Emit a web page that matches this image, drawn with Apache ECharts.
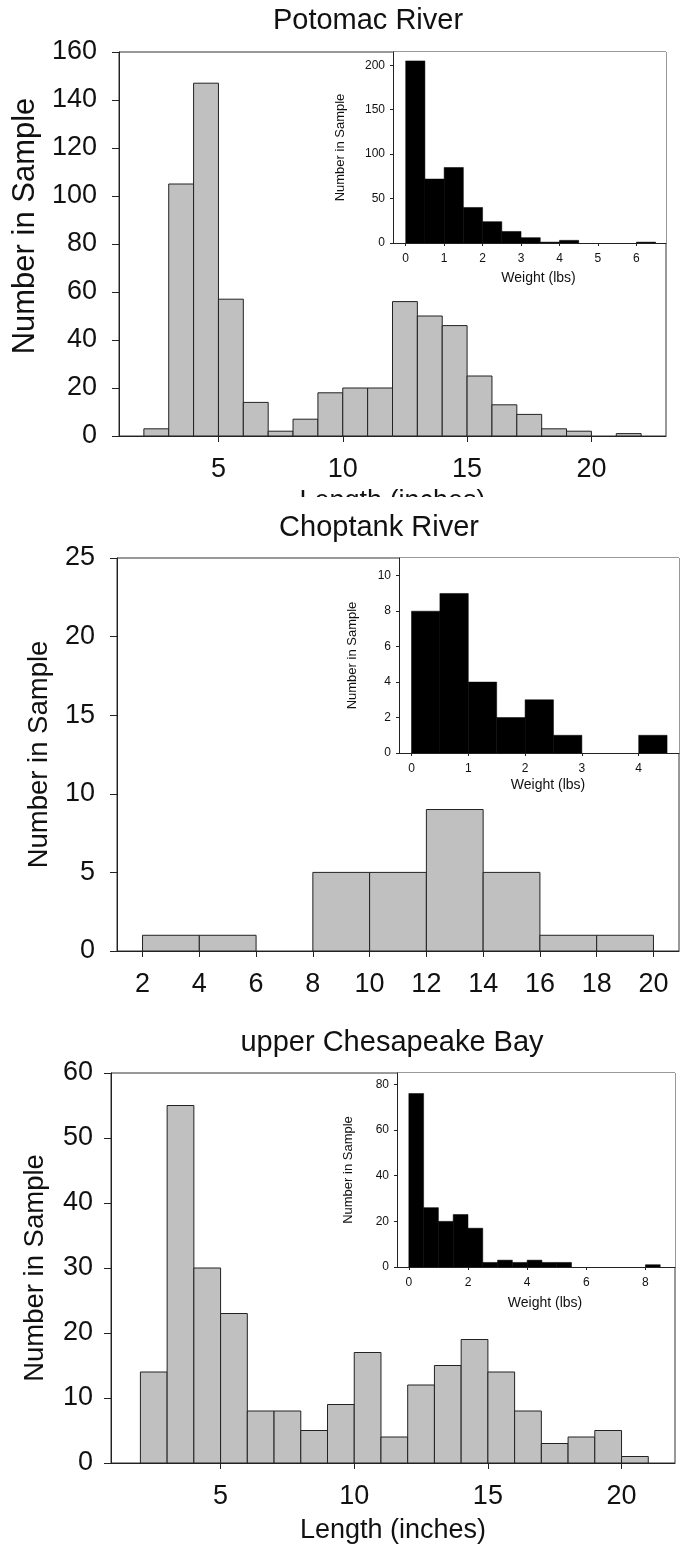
<!DOCTYPE html>
<html>
<head>
<meta charset="utf-8">
<script src="https://cdn.jsdelivr.net/npm/echarts@6/dist/echarts.min.js"></script>
<style>
  html, body { margin:0; padding:0; background:#fff; }
  .panel { position:absolute; left:0; width:683px; }
</style>
</head>
<body>
<div id="c1" class="panel" style="top:0;height:497px"></div>
<div id="c2" class="panel" style="top:497px;height:513px"></div>
<div id="c3" class="panel" style="top:1010px;height:535px"></div>
<script>
// ---------------- DATA ----------------
// Potomac River
const potomacTitle = 'Potomac River';
const potomacLenBins   = [2,3,4,5,6,7,8,9,10,11,12,13,14,15,16,17,18,19,20,21];
const potomacLenCounts = [3,105,147,57,14,2,7,18,20,20,56,50,46,25,13,9,3,2,0,1];
const potomacLenTicks  = [5,10,15,20];
const potomacYTicks    = [0,20,40,60,80,100,120,140,160];
const potomacWtBins    = [0,0.5,1,1.5,2,2.5,3,3.5,4,4.5,5,5.5,6];
const potomacWtCounts  = [205,72,85,40,24,13,6,1,3,0,0,0,1];
const potomacWtTicks   = [0,1,2,3,4,5,6];
const potomacWtYTicks  = [0,50,100,150,200];

// Choptank River
const choptankTitle = 'Choptank River';
const choptankLenBins   = [2,4,6,8,10,12,14,16,18];
const choptankLenCounts = [1,1,0,5,5,9,5,1,1];
const choptankLenTicks  = [2,4,6,8,10,12,14,16,18,20];
const choptankYTicks    = [0,5,10,15,20,25];
const choptankWtBins    = [0,0.5,1,1.5,2,2.5,3,3.5,4];
const choptankWtCounts  = [8,9,4,2,3,1,0,0,1];
const choptankWtTicks   = [0,1,2,3,4];
const choptankWtYTicks  = [0,2,4,6,8,10];

// upper Chesapeake Bay
const chesTitle = 'upper Chesapeake Bay';
const chesLenBins   = [2,3,4,5,6,7,8,9,10,11,12,13,14,15,16,17,18,19,20];
const chesLenCounts = [14,55,30,23,8,8,5,9,17,4,12,15,19,14,8,3,4,5,1];
const chesLenTicks  = [5,10,15,20];
const chesYTicks    = [0,10,20,30,40,50,60];
const chesWtBins    = [0,0.5,1,1.5,2,2.5,3,3.5,4,4.5,5,5.5,6,6.5,7,7.5,8];
const chesWtCounts  = [76,26,20,23,17,2,3,2,3,2,2,0,0,0,0,0,1];
const chesWtTicks   = [0,2,4,6,8];
const chesWtYTicks  = [0,20,40,60,80];

const yName = 'Number in Sample';
const xNameLen = 'Length (inches)';
const xNameWt = 'Weight (lbs)';

// ---------------- HELPERS ----------------
const FONT = "'Liberation Sans', Arial, Helvetica, sans-serif";
const INK = '#111';

function histSeries(bins, counts, width, xi, yi, style) {
  return {
    type: 'custom',
    xAxisIndex: xi, yAxisIndex: yi,
    clip: true,
    data: bins.map((b, i) => [b, counts[i]]),
    renderItem: function (params, api) {
      const x0 = api.value(0), v = api.value(1);
      if (!v) return null;
      const p0 = api.coord([x0, v]);
      const p1 = api.coord([x0 + width, 0]);
      return {
        type: 'rect',
        shape: { x: p0[0], y: p0[1], width: p1[0] - p0[0], height: p1[1] - p0[1] },
        style: style
      };
    }
  };
}

function axisLine() { return { show: true, onZero: false, lineStyle: { color: '#222', width: 1 } }; }

function buildOption(p) {
  return {
    animation: false,
    backgroundColor: '#fff',
    title: {
      text: p.title, left: p.titleX, top: p.titleY, textAlign: 'center', textVerticalAlign: 'middle',
      padding: 0,
      textStyle: { fontFamily: FONT, fontSize: 29, fontWeight: 'normal', color: INK }
    },
    grid: [
      Object.assign({ show: true, borderColor: '#333', borderWidth: 1, backgroundColor: 'transparent',
                      containLabel: false, outerBoundsMode: 'none' }, p.main),
      Object.assign({ show: true, borderWidth: 0, backgroundColor: '#fff',
                      containLabel: false, outerBoundsMode: 'none' }, p.inset)
    ],
    xAxis: [
      {
        gridIndex: 0, type: 'value', min: p.xRange[0], max: p.xRange[1],
        axisLine: axisLine(),
        axisTick: { show: true, customValues: p.xTicks, length: 6, lineStyle: { color: '#222' } },
        axisLabel: { customValues: p.xTicks, margin: 20, fontSize: 27, fontFamily: FONT, color: INK },
        splitLine: { show: false },
        name: p.xName, nameLocation: 'middle', nameGap: p.xNameGap,
        nameTextStyle: { fontSize: 27, fontFamily: FONT, color: INK }
      },
      {
        gridIndex: 1, type: 'value', min: p.ixRange[0], max: p.ixRange[1],
        axisLine: axisLine(),
        axisTick: { show: true, customValues: p.ixTicks, length: 3, lineStyle: { color: '#222' } },
        axisLabel: { customValues: p.ixTicks, margin: 10, fontSize: 12, fontFamily: FONT, color: INK },
        splitLine: { show: false },
        name: xNameWt, nameLocation: 'middle', nameGap: p.ixNameGap,
        nameTextStyle: { fontSize: 14, fontFamily: FONT, color: INK, padding: [0, 0, 0, 18] }
      }
    ],
    yAxis: [
      {
        gridIndex: 0, type: 'value', min: p.yTicks[0], max: p.yTicks[p.yTicks.length - 1],
        axisLine: axisLine(),
        axisTick: { show: true, customValues: p.yTicks, length: 7, lineStyle: { color: '#222' } },
        axisLabel: { customValues: p.yTicks, margin: p.yLabelMargin, fontSize: 27, fontFamily: FONT, color: INK },
        splitLine: { show: false },
        name: yName, nameLocation: 'middle', nameGap: p.yNameGap,
        nameTextStyle: { fontSize: p.yNameSize, fontFamily: FONT, color: INK, padding: p.yNamePad || 0 }
      },
      {
        gridIndex: 1, type: 'value', min: 0, max: p.iyMax,
        axisLine: axisLine(),
        axisTick: { show: true, customValues: p.iyTicks, length: 3, lineStyle: { color: '#222' } },
        axisLabel: { customValues: p.iyTicks, margin: 8, fontSize: 12, fontFamily: FONT, color: INK },
        splitLine: { show: false },
        name: yName, nameLocation: 'middle', nameGap: p.iyNameGap,
        nameTextStyle: { fontSize: 13, fontFamily: FONT, color: INK }
      }
    ],
    series: [
      histSeries(p.lenBins, p.lenCounts, p.lenWidth, 0, 0, { fill: '#c0c0c0', stroke: '#222', lineWidth: 1 }),
      histSeries(p.wtBins, p.wtCounts, 0.5, 1, 1, { fill: '#000', stroke: '#000', lineWidth: 0.5 })
    ]
  };
}

const panels = [
  {
    el: 'c1', title: potomacTitle, titleX: 368, titleY: 21,
    main: { left: 119, top: 52, width: 547, height: 384 },
    inset: { left: 393, top: 52, width: 273, height: 191 },
    xRange: [1, 23], xTicks: potomacLenTicks, xName: xNameLen, xNameGap: 51,
    yTicks: potomacYTicks, yLabelMargin: 22, yNameGap: 73, yNameSize: 31, yNamePad: [0, 0, 0, 36],
    ixRange: [-0.33, 6.77], ixTicks: potomacWtTicks, ixNameGap: 28,
    iyMax: 215, iyTicks: potomacWtYTicks, iyNameGap: 46,
    lenBins: potomacLenBins, lenCounts: potomacLenCounts, lenWidth: 1,
    wtBins: potomacWtBins, wtCounts: potomacWtCounts
  },
  {
    el: 'c2', title: choptankTitle, titleX: 379, titleY: 31,
    main: { left: 117, top: 61, width: 562, height: 393 },
    inset: { left: 399, top: 61, width: 280, height: 195 },
    xRange: [1.1, 20.9], xTicks: choptankLenTicks, xName: '', xNameGap: 50,
    yTicks: choptankYTicks, yLabelMargin: 22, yNameGap: 64, yNameSize: 27.5,
    ixRange: [-0.22, 4.71], ixTicks: choptankWtTicks, ixNameGap: 25,
    iyMax: 11, iyTicks: choptankWtYTicks, iyNameGap: 40,
    lenBins: choptankLenBins, lenCounts: choptankLenCounts, lenWidth: 2,
    wtBins: choptankWtBins, wtCounts: choptankWtCounts
  },
  {
    el: 'c3', title: chesTitle, titleX: 392, titleY: 33,
    main: { left: 111, top: 63, width: 564, height: 390 },
    inset: { left: 397, top: 63, width: 278, height: 194 },
    xRange: [0.9, 22], xTicks: chesLenTicks, xName: xNameLen, xNameGap: 54,
    yTicks: chesYTicks, yLabelMargin: 18, yNameGap: 62, yNameSize: 27.5,
    ixRange: [-0.4, 9], ixTicks: chesWtTicks, ixNameGap: 29,
    iyMax: 85, iyTicks: chesWtYTicks, iyNameGap: 42,
    lenBins: chesLenBins, lenCounts: chesLenCounts, lenWidth: 1,
    wtBins: chesWtBins, wtCounts: chesWtCounts
  }
];

panels.forEach(p => {
  const chart = echarts.init(document.getElementById(p.el), null, { renderer: 'canvas' });
  chart.setOption(buildOption(p));
});
</script>
</body>
</html>
